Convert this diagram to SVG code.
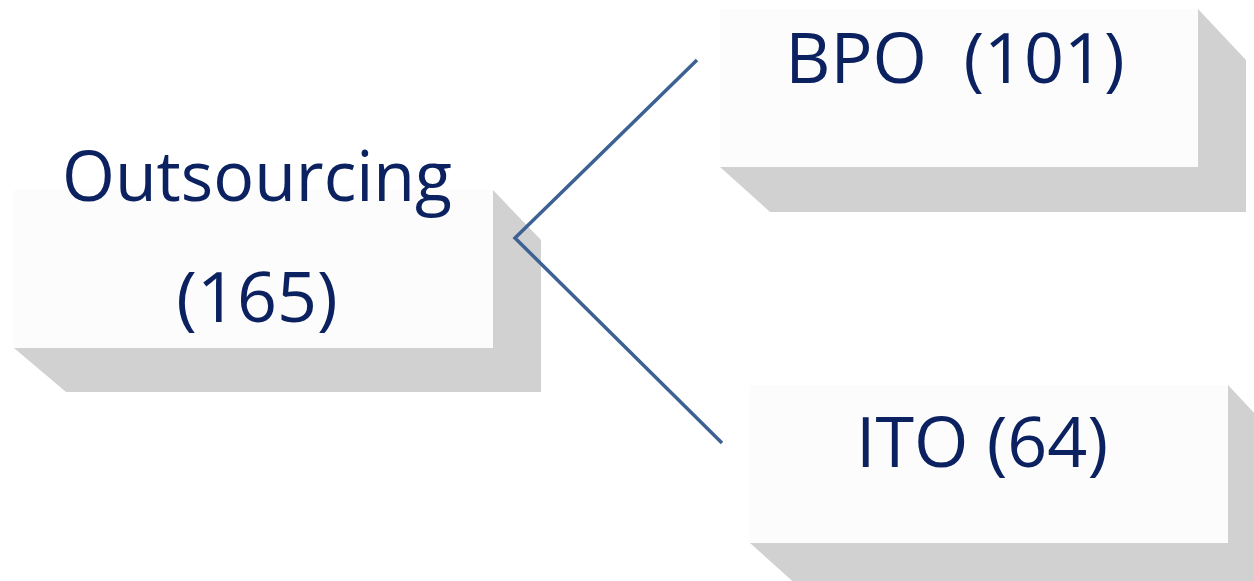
<svg xmlns="http://www.w3.org/2000/svg" width="1254" height="581" viewBox="0 0 1254 581">
<style>
.face{fill:#fcfcfc}
.shadow{fill:#d0d1d0}
.lbl{font-family:"Open Sans","Liberation Sans",sans-serif;font-size:70px;fill:#0b2160;text-anchor:middle;white-space:pre}
.conn{stroke:#3d6193;stroke-width:3.5;fill:none}
</style>
<rect width="1254" height="581" fill="#ffffff"/>
<g id="node-outsourcing">
<polygon class="shadow" points="493,190 541,240 541,392 66,392 14,348 493,348"/>
<rect class="face" x="14" y="190" width="479" height="158"/>
<text class="lbl" x="257" y="201" textLength="390" lengthAdjust="spacingAndGlyphs">Outsourcing</text>
<text class="lbl" x="257" y="322">(165)</text>
</g>
<g id="node-bpo">
<polygon class="shadow" points="1198,9 1246,60 1246,212 770,212 720,167 1198,167"/>
<rect class="face" x="720" y="9" width="478" height="158"/>
<text class="lbl" x="955" y="83" xml:space="preserve">BPO  (101)</text>
</g>
<g id="node-ito">
<polygon class="shadow" points="1228,385 1276,436 1276,588 800,588 750,543 1228,543"/>
<rect class="face" x="750" y="385" width="478" height="158"/>
<text class="lbl" x="982" y="467">ITO (64)</text>
</g>
<g id="connectors">
<polyline class="conn" points="697,60 515,238 722,443"/>
</g>
</svg>
